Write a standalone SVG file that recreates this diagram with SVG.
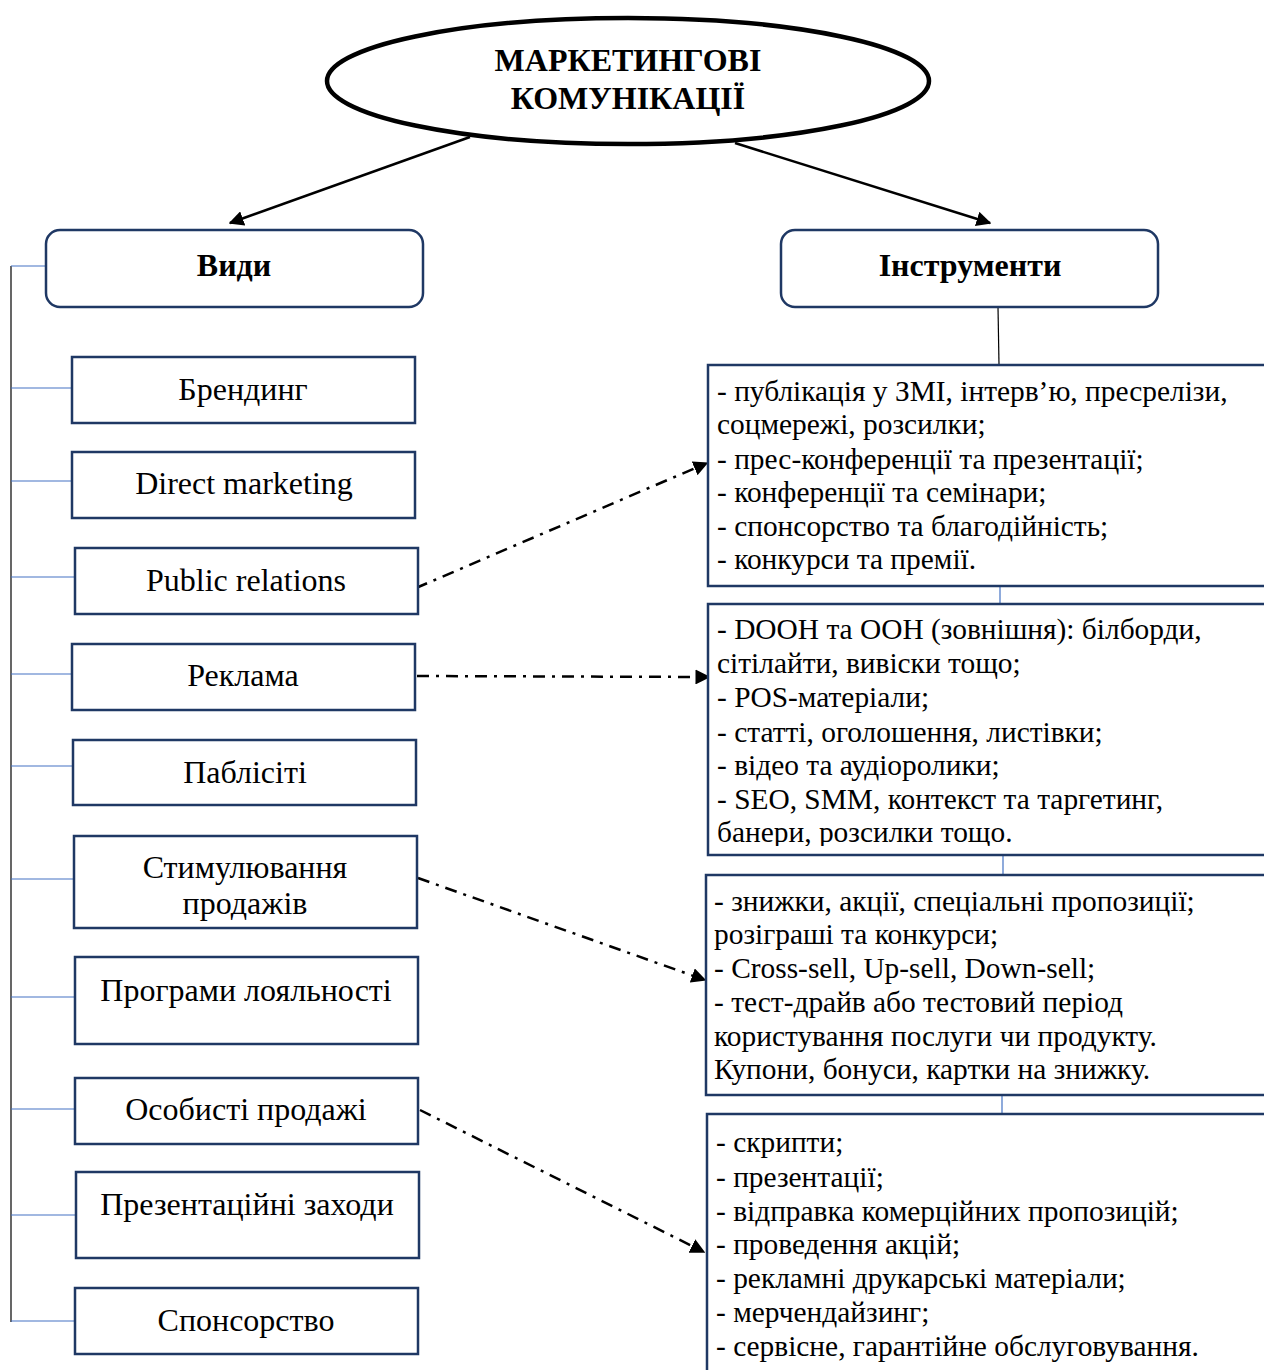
<svg xmlns="http://www.w3.org/2000/svg" width="1264" height="1370" viewBox="0 0 1264 1370">
  <style>
    .box { fill: #ffffff; stroke: #1f3864; stroke-width: 2.5; }
    .hdr { fill: #ffffff; stroke: #1f3864; stroke-width: 2.5; }
    .lbl { font-family: "Liberation Serif", "Times New Roman", serif; font-size: 32px; fill: #000; text-anchor: middle; }
    .bold { font-weight: bold; }
    .lst { font-family: "Liberation Serif", "Times New Roman", serif; font-size: 29.4px; fill: #000; }
    .tree { stroke: #4472c4; stroke-width: 1.2; fill: none; }
    .spine { stroke: #000; stroke-width: 1.2; fill: none; }
    .arrow { stroke: #000; stroke-width: 2.5; fill: none; marker-end: url(#head); }
    .dd { stroke: #000; stroke-width: 2.5; fill: none; stroke-dasharray: 12 7 3 7; marker-end: url(#head); }
  </style>
  <defs>
    <marker id="head" viewBox="0 0 10 10" refX="9" refY="5" markerWidth="6" markerHeight="6" markerUnits="strokeWidth" orient="auto">
      <path d="M0,0 L10,5 L0,10 z" fill="#000"/>
    </marker>
    <clipPath id="clipB">
      <rect x="708" y="604" width="560" height="242"/>
    </clipPath>
  </defs>

  <!-- root ellipse -->
  <g id="root">
    <ellipse cx="628" cy="81" rx="301" ry="63" fill="#fff" stroke="#000" stroke-width="4.5"/>
    <text class="lbl bold" x="628" y="71">МАРКЕТИНГОВІ</text>
    <text class="lbl bold" x="628" y="109">КОМУНІКАЦІЇ</text>
  </g>

  <!-- connectors -->
  <g id="connectors">
    <line class="arrow" x1="470" y1="137" x2="230" y2="223"/>
    <line class="arrow" x1="735" y1="143" x2="990" y2="223"/>

    <!-- left tree -->
    <line class="spine" x1="11" y1="266" x2="11" y2="1322"/>
    <line class="tree" x1="11" y1="266" x2="46" y2="266"/>
    <line class="tree" x1="11" y1="388" x2="72" y2="388"/>
    <line class="tree" x1="11" y1="481" x2="72" y2="481"/>
    <line class="tree" x1="11" y1="577" x2="75" y2="577"/>
    <line class="tree" x1="11" y1="674" x2="72" y2="674"/>
    <line class="tree" x1="11" y1="766" x2="73" y2="766"/>
    <line class="tree" x1="11" y1="879" x2="74" y2="879"/>
    <line class="tree" x1="11" y1="997" x2="75" y2="997"/>
    <line class="tree" x1="11" y1="1109" x2="75" y2="1109"/>
    <line class="tree" x1="11" y1="1215" x2="76" y2="1215"/>
    <line class="tree" x1="11" y1="1321" x2="75" y2="1321"/>

    <!-- right chain -->
    <line class="spine" x1="998" y1="307" x2="999" y2="365"/>
    <line class="tree" x1="1000" y1="586" x2="1000" y2="604"/>
    <line class="tree" x1="1003" y1="855" x2="1003" y2="875"/>
    <line class="tree" x1="1002" y1="1095" x2="1002" y2="1114"/>

    <!-- dash-dot links -->
    <line class="dd" x1="416" y1="588" x2="707" y2="463"/>
    <line class="dd" x1="417" y1="676" x2="709" y2="677"/>
    <line class="dd" x1="418" y1="878" x2="705" y2="980"/>
    <line class="dd" x1="420" y1="1110" x2="704" y2="1252"/>
  </g>

  <!-- headers -->
  <g id="vydy">
    <rect class="hdr" x="46" y="230" width="377" height="77" rx="14"/>
    <text class="lbl bold" x="234" y="276">Види</text>
  </g>
  <g id="instrumenty">
    <rect class="hdr" x="781" y="230" width="377" height="77" rx="14"/>
    <text class="lbl bold" x="970" y="276">Інструменти</text>
  </g>

  <!-- kinds -->
  <g id="branding">
    <rect class="box" x="72" y="357" width="343" height="66"/>
    <text class="lbl" x="243" y="400">Брендинг</text>
  </g>
  <g id="direct-marketing">
    <rect class="box" x="72" y="452" width="343" height="66"/>
    <text class="lbl" x="244" y="494">Direct marketing</text>
  </g>
  <g id="public-relations">
    <rect class="box" x="75" y="548" width="343" height="66"/>
    <text class="lbl" x="246" y="591">Public relations</text>
  </g>
  <g id="reklama">
    <rect class="box" x="72" y="644" width="343" height="66"/>
    <text class="lbl" x="243" y="686">Реклама</text>
  </g>
  <g id="publicity">
    <rect class="box" x="73" y="740" width="343" height="65"/>
    <text class="lbl" x="245" y="783">Паблісіті</text>
  </g>
  <g id="sales-promotion">
    <rect class="box" x="74" y="836" width="343" height="92"/>
    <text class="lbl" x="245" y="878">Стимулювання</text>
    <text class="lbl" x="245" y="914">продажів</text>
  </g>
  <g id="loyalty">
    <rect class="box" x="75" y="957" width="343" height="87"/>
    <text class="lbl" x="246" y="1001">Програми лояльності</text>
  </g>
  <g id="personal-selling">
    <rect class="box" x="75" y="1078" width="343" height="66"/>
    <text class="lbl" x="246" y="1120">Особисті продажі</text>
  </g>
  <g id="presentations">
    <rect class="box" x="76" y="1172" width="343" height="86"/>
    <text class="lbl" x="247" y="1215">Презентаційні заходи</text>
  </g>
  <g id="sponsorship">
    <rect class="box" x="75" y="1288" width="343" height="66"/>
    <text class="lbl" x="246" y="1331">Спонсорство</text>
  </g>

  <!-- tool lists -->
  <g id="tools-pr">
    <rect class="box" x="708" y="365" width="560" height="221"/>
    <text class="lst" x="717" y="401">- публікація у ЗМІ, інтерв’ю, пресрелізи,</text>
    <text class="lst" x="717" y="434">соцмережі, розсилки;</text>
    <text class="lst" x="717" y="469">- прес-конференції та презентації;</text>
    <text class="lst" x="717" y="502">- конференції та семінари;</text>
    <text class="lst" x="717" y="536">- спонсорство та благодійність;</text>
    <text class="lst" x="717" y="569">- конкурси та премії.</text>
  </g>
  <g id="tools-ads">
    <rect class="box" x="708" y="604" width="560" height="251"/>
    <g clip-path="url(#clipB)">
      <text class="lst" x="717" y="639">- DOOH та OOH (зовнішня): білборди,</text>
      <text class="lst" x="717" y="673">сітілайти, вивіски тощо;</text>
      <text class="lst" x="717" y="707">- POS-матеріали;</text>
      <text class="lst" x="717" y="742">- статті, оголошення, листівки;</text>
      <text class="lst" x="717" y="775">- відео та аудіоролики;</text>
      <text class="lst" x="717" y="809">- SEO, SMM, контекст та таргетинг,</text>
      <text class="lst" x="717" y="842">банери, розсилки тощо.</text>
    </g>
  </g>
  <g id="tools-promo">
    <rect class="box" x="706" y="875" width="562" height="220"/>
    <text class="lst" x="714" y="911">- знижки, акції, спеціальні пропозиції;</text>
    <text class="lst" x="714" y="944">розіграші та конкурси;</text>
    <text class="lst" x="714" y="978">- Cross-sell, Up-sell, Down-sell;</text>
    <text class="lst" x="714" y="1012">- тест-драйв або тестовий період</text>
    <text class="lst" x="714" y="1046">користування послуги чи продукту.</text>
    <text class="lst" x="714" y="1079">Купони, бонуси, картки на знижку.</text>
  </g>
  <g id="tools-personal">
    <rect class="box" x="707" y="1114" width="561" height="270"/>
    <text class="lst" x="716" y="1152">- скрипти;</text>
    <text class="lst" x="716" y="1187">- презентації;</text>
    <text class="lst" x="716" y="1221">- відправка комерційних пропозицій;</text>
    <text class="lst" x="716" y="1254">- проведення акцій;</text>
    <text class="lst" x="716" y="1288">- рекламні друкарські матеріали;</text>
    <text class="lst" x="716" y="1322">- мерчендайзинг;</text>
    <text class="lst" x="716" y="1356">- сервісне, гарантійне обслуговування.</text>
  </g>
</svg>
